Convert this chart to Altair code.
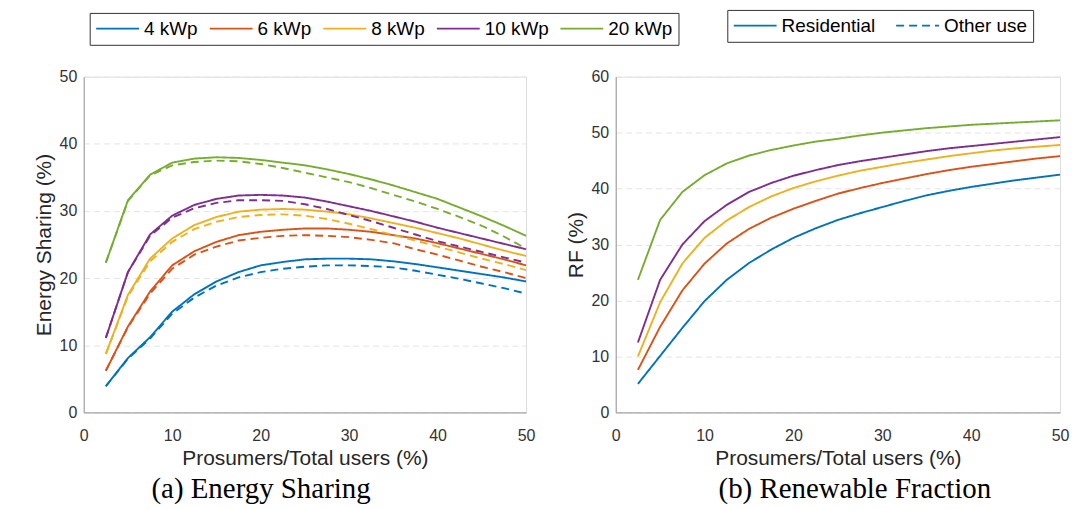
import altair as alt
import pandas as pd

# ---------------- data ----------------
x_vals = [2.5, 5, 7.5, 10, 12.5, 15, 17.5, 20, 22.5, 25, 27.5, 30,
          32.5, 35, 37.5, 40, 42.5, 45, 47.5, 50]

capacities = ["4 kWp", "6 kWp", "8 kWp", "10 kWp", "20 kWp"]
cap_colors = ["#0072BD", "#D95319", "#EDB120", "#7E2F8E", "#77AC30"]
uses = ["Residential", "Other use"]

# Energy sharing (%) - residential (solid)
es_res_4 = [3.9, 8.1, 11.2, 15.0, 17.6, 19.5, 20.9, 21.9, 22.4, 22.8, 22.9, 22.9, 22.8, 22.5, 22.1, 21.6, 21.1, 20.6, 20.1, 19.5]
es_res_6 = [6.2, 12.8, 18.0, 21.9, 24.0, 25.4, 26.4, 26.9, 27.2, 27.4, 27.4, 27.2, 26.9, 26.4, 25.9, 25.2, 24.4, 23.6, 22.8, 21.9]
es_res_8 = [8.7, 17.5, 22.9, 25.9, 27.9, 29.1, 29.9, 30.2, 30.3, 30.2, 29.9, 29.5, 28.9, 28.2, 27.5, 26.7, 25.9, 25.0, 24.1, 23.3]
es_res_10 = [11.1, 20.9, 26.5, 29.3, 30.9, 31.8, 32.3, 32.4, 32.3, 32.0, 31.4, 30.7, 30.0, 29.2, 28.4, 27.5, 26.7, 25.9, 25.1, 24.3]
es_res_20 = [22.3, 31.6, 35.4, 37.2, 37.8, 38.0, 37.9, 37.6, 37.2, 36.8, 36.2, 35.5, 34.7, 33.8, 32.8, 31.8, 30.5, 29.2, 27.8, 26.3]

# Energy sharing (%) - other use (dashed)
es_oth_4 = [3.9, 8.0, 11.0, 14.7, 17.1, 18.9, 20.1, 20.9, 21.4, 21.7, 21.9, 21.9, 21.8, 21.6, 21.1, 20.5, 19.9, 19.2, 18.5, 17.7]
es_oth_6 = [6.2, 12.7, 17.7, 21.4, 23.5, 24.7, 25.6, 26.0, 26.3, 26.4, 26.3, 26.1, 25.7, 25.2, 24.3, 23.5, 22.6, 21.7, 20.9, 20.0]
es_oth_8 = [8.7, 17.3, 22.5, 25.4, 27.3, 28.4, 29.1, 29.4, 29.5, 29.3, 28.8, 28.1, 27.3, 26.4, 25.6, 24.7, 23.8, 22.9, 22.1, 21.2]
es_oth_10 = [11.1, 20.9, 26.3, 29.0, 30.4, 31.2, 31.6, 31.6, 31.5, 31.0, 30.3, 29.4, 28.5, 27.5, 26.5, 25.5, 24.7, 23.9, 23.1, 22.3]
es_oth_20 = [22.3, 31.5, 35.3, 36.8, 37.3, 37.5, 37.4, 37.0, 36.4, 35.7, 35.0, 34.3, 33.4, 32.4, 31.4, 30.3, 29.1, 27.8, 26.2, 24.4]

# Renewable fraction (%)
rf_4 = [5.1, 10.1, 15.1, 19.9, 23.7, 26.7, 29.1, 31.2, 32.9, 34.4, 35.6, 36.7, 37.8, 38.8, 39.6, 40.3, 40.9, 41.5, 42.0, 42.5]
rf_6 = [7.6, 15.3, 21.8, 26.6, 30.2, 32.8, 34.8, 36.4, 37.8, 39.1, 40.1, 41.0, 41.8, 42.6, 43.3, 43.9, 44.4, 44.9, 45.4, 45.8]
rf_8 = [10.0, 19.7, 26.6, 31.2, 34.3, 36.7, 38.6, 40.1, 41.3, 42.3, 43.2, 43.9, 44.6, 45.2, 45.8, 46.3, 46.8, 47.2, 47.5, 47.8]
rf_10 = [12.5, 23.7, 30.0, 34.2, 37.1, 39.4, 41.0, 42.3, 43.3, 44.2, 44.9, 45.5, 46.1, 46.7, 47.2, 47.6, 48.0, 48.4, 48.8, 49.2]
rf_20 = [23.7, 34.4, 39.4, 42.4, 44.5, 45.9, 46.9, 47.7, 48.4, 48.9, 49.5, 50.0, 50.4, 50.8, 51.1, 51.4, 51.6, 51.8, 52.0, 52.2]

es_res = [es_res_4, es_res_6, es_res_8, es_res_10, es_res_20]
es_oth = [es_oth_4, es_oth_6, es_oth_8, es_oth_10, es_oth_20]
rf_all = [rf_4, rf_6, rf_8, rf_10, rf_20]

rows_es, rows_rf = [], []
for cap, r, o, f in zip(capacities, es_res, es_oth, rf_all):
    for xv, v in zip(x_vals, r):
        rows_es.append({"x": xv, "y": v, "cap": cap, "use": "Residential"})
    for xv, v in zip(x_vals, o):
        rows_es.append({"x": xv, "y": v, "cap": cap, "use": "Other use"})
    for xv, v in zip(x_vals, f):
        rows_rf.append({"x": xv, "y": v, "cap": cap, "use": "Residential"})
df_es = pd.DataFrame(rows_es)
df_rf = pd.DataFrame(rows_rf)

# ---------------- styling ----------------
SANS = "Liberation Sans"
SERIF = "Liberation Serif"
SYMBOL = "M-4.3,0H4.3"

color_scale = alt.Scale(domain=capacities, range=cap_colors)
dash_scale = alt.Scale(domain=uses, range=[[1, 0], [8, 5]])


def x_axis():
    return alt.Axis(values=[0, 10, 20, 30, 40, 50], grid=False, ticks=False,
                    labelFlush=False,
                    domainColor="#9a9a9a", labelFontSize=16, labelFont=SANS,
                    labelColor="#333333", labelPadding=15,
                    title="Prosumers/Total users (%)", titleFont=SANS,
                    titleFontSize=21, titleFontWeight="normal",
                    titleColor="#262626", titlePadding=4)


def y_axis(vals, title):
    return alt.Axis(values=vals, grid=True, gridDash=[6, 4], gridColor="#e3e3e3",
                    ticks=False, domainColor="#9a9a9a", labelFontSize=16,
                    labelFont=SANS, labelColor="#333333", labelPadding=7,
                    title=title, titleFont=SANS, titleFontSize=21,
                    titleFontWeight="normal", titleColor="#262626",
                    titlePadding=5)


cap_legend = alt.Legend(
    title=None, orient="none", legendX=6, legendY=-64, direction="horizontal",
    symbolType=SYMBOL, symbolSize=100, symbolStrokeWidth=1.8,
    symbolOffset=12.5, labelOffset=17, labelFontSize=19, labelFont=SANS,
    labelColor="black", columnPadding=7, padding=6, strokeColor="#333333",
    fillColor="white", gridAlign="each")

use_legend = alt.Legend(
    title=None, orient="none", legendX=112, legendY=-67, direction="horizontal",
    symbolType=SYMBOL, symbolSize=100, symbolStrokeWidth=1.8,
    symbolStrokeColor="#0072BD", symbolOffset=12.5, labelOffset=17,
    labelFontSize=19, labelFont=SANS, labelColor="black", columnPadding=16,
    padding=6, strokeColor="#333333", fillColor="white", gridAlign="each")

left = alt.Chart(df_es).mark_line(strokeWidth=1.9).encode(
    x=alt.X("x:Q", scale=alt.Scale(domain=[0, 50], nice=False), axis=x_axis()),
    y=alt.Y("y:Q", scale=alt.Scale(domain=[0, 50], nice=False),
            axis=y_axis([0, 10, 20, 30, 40, 50], "Energy Sharing (%)")),
    color=alt.Color("cap:N", scale=color_scale, legend=cap_legend),
    strokeDash=alt.StrokeDash("use:N", scale=dash_scale, legend=None),
).properties(
    width=444, height=337,
    title=alt.TitleParams("(a) Energy Sharing", orient="bottom", font=SERIF,
                          fontSize=29, fontWeight="normal", color="black",
                          offset=7, anchor="middle", frame="group", dx=-44),
)

right = alt.Chart(df_rf).mark_line(strokeWidth=1.9).encode(
    x=alt.X("x:Q", scale=alt.Scale(domain=[0, 50], nice=False), axis=x_axis()),
    y=alt.Y("y:Q", scale=alt.Scale(domain=[0, 60], nice=False),
            axis=y_axis([0, 10, 20, 30, 40, 50, 60], "RF (%)")),
    color=alt.Color("cap:N", scale=color_scale, legend=None),
    strokeDash=alt.StrokeDash("use:N", scale=dash_scale, legend=use_legend),
).properties(
    width=446, height=337,
    title=alt.TitleParams("(b) Renewable Fraction", orient="bottom", font=SERIF,
                          fontSize=29, fontWeight="normal", color="black",
                          offset=7, anchor="middle", frame="group", dx=17),
)

chart = alt.hconcat(left, right, spacing=90, bounds="flush").resolve_scale(
    color="independent", strokeDash="independent"
).resolve_legend(
    color="independent", strokeDash="independent"
).properties(
    padding={"left": 24, "top": 0, "right": 0, "bottom": 2}
).configure_view(stroke=None).configure(background="white")

chart.save("out.html", embed_options={"renderer": "svg", "actions": False})
